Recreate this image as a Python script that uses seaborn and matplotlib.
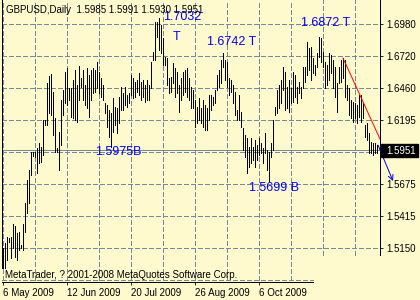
import numpy as np
import pandas as pd
import matplotlib
matplotlib.use("Agg")
import matplotlib.pyplot as plt
import seaborn as sns
from matplotlib.patches import Rectangle

# ---------------- data ----------------
symbol = "GBPUSD,Daily"
last_ohlc = ["1.5985", "1.5991", "1.5930", "1.5951"]
last_close = 1.5951

highs = [
    1.5150, 1.5191, 1.5240, 1.5232, 1.5240, 1.5346, 1.5330, 1.5273, 1.5281, 1.5174,
    1.5346, 1.5518, 1.5705, 1.5787, 1.5934, 1.5934, 1.5934, 1.5967, 1.6008, 1.5975,
    1.6196, 1.6196, 1.6498, 1.6555, 1.6571, 1.6424, 1.6212, 1.5967, 1.6098, 1.6359,
    1.6441, 1.6588, 1.6620, 1.6457, 1.6457, 1.6522, 1.6604, 1.6482, 1.6637, 1.6539,
    1.6604, 1.6482, 1.6620, 1.6563, 1.6604, 1.6620, 1.6604, 1.6669, 1.6588, 1.6539,
    1.6482, 1.6335, 1.6318, 1.6277, 1.6253, 1.6376, 1.6302, 1.6294, 1.6384, 1.6465,
    1.6416, 1.6465, 1.6400, 1.6416, 1.6563, 1.6539, 1.6506, 1.6522, 1.6580, 1.6506,
    1.6522, 1.6482, 1.6522, 1.6482, 1.6669, 1.6751, 1.6996, 1.6996, 1.7032, 1.6972,
    1.6866, 1.6710, 1.6702, 1.6539, 1.6547, 1.6661, 1.6620, 1.6588, 1.6482, 1.6539,
    1.6588, 1.6604, 1.6620, 1.6539, 1.6465, 1.6441, 1.6359, 1.6302, 1.6376, 1.6294,
    1.6359, 1.6318, 1.6294, 1.6400, 1.6400, 1.6384, 1.6441, 1.6563, 1.6604, 1.6686,
    1.6742, 1.6686, 1.6669, 1.6539, 1.6522, 1.6482, 1.6424, 1.6277, 1.6400, 1.6261,
    1.6130, 1.6073, 1.6049, 1.5975, 1.6049, 1.5975, 1.6032, 1.5991, 1.6049, 1.6008,
    1.5967, 1.6090, 1.5951, 1.5934, 1.6008, 1.6196, 1.6302, 1.6441, 1.6482, 1.6522,
    1.6629, 1.6588, 1.6465, 1.6522, 1.6457, 1.6588, 1.6563, 1.6465, 1.6506, 1.6465,
    1.6629, 1.6629, 1.6833, 1.6784, 1.6792, 1.6702, 1.6645, 1.6743, 1.6872, 1.6866,
    1.6751, 1.6669, 1.6645, 1.6743, 1.6727, 1.6686, 1.6629, 1.6498, 1.6629, 1.6686,
    1.6702, 1.6686, 1.6482, 1.6457, 1.6359, 1.6343, 1.6335, 1.6318, 1.6400, 1.6400,
    1.6335, 1.6155, 1.6171, 1.6090, 1.6016, 1.6008, 1.6008, 1.5991,
]
lows = [
    1.4985, 1.4985, 1.5052, 1.5199, 1.5068, 1.5150, 1.5076, 1.5052, 1.5134, 1.5150,
    1.5134, 1.5281, 1.5436, 1.5518, 1.5746, 1.5901, 1.5893, 1.5763, 1.5844, 1.5852,
    1.5910, 1.6155, 1.6155, 1.6253, 1.6237, 1.6073, 1.5934, 1.5934, 1.5787, 1.5991,
    1.6237, 1.6335, 1.6318, 1.6359, 1.6220, 1.6212, 1.6196, 1.6180, 1.6359, 1.6465,
    1.6359, 1.6318, 1.6294, 1.6220, 1.6359, 1.6416, 1.6424, 1.6457, 1.6416, 1.6384,
    1.6359, 1.6253, 1.6139, 1.6057, 1.5975, 1.6098, 1.6155, 1.6090, 1.6171, 1.6277,
    1.6277, 1.6318, 1.6302, 1.6335, 1.6400, 1.6376, 1.6384, 1.6424, 1.6400, 1.6359,
    1.6384, 1.6343, 1.6359, 1.6359, 1.6457, 1.6686, 1.6686, 1.6874, 1.6768, 1.6743,
    1.6645, 1.6645, 1.6482, 1.6416, 1.6424, 1.6498, 1.6384, 1.6416, 1.6261, 1.6359,
    1.6400, 1.6424, 1.6384, 1.6359, 1.6294, 1.6294, 1.6139, 1.6171, 1.6196, 1.6171,
    1.6139, 1.6114, 1.6114, 1.6196, 1.6277, 1.6318, 1.6335, 1.6441, 1.6465, 1.6498,
    1.6629, 1.6522, 1.6465, 1.6400, 1.6424, 1.6335, 1.6237, 1.6196, 1.6196, 1.6139,
    1.5951, 1.5893, 1.5763, 1.5811, 1.5844, 1.5869, 1.5811, 1.5869, 1.5910, 1.5926,
    1.5844, 1.5926, 1.5787, 1.5699, 1.5893, 1.5951, 1.6237, 1.6253, 1.6294, 1.6335,
    1.6441, 1.6277, 1.6294, 1.6261, 1.6335, 1.6343, 1.6384, 1.6335, 1.6416, 1.6376,
    1.6457, 1.6506, 1.6563, 1.6604, 1.6522, 1.6580, 1.6563, 1.6629, 1.6710, 1.6669,
    1.6629, 1.6457, 1.6482, 1.6522, 1.6580, 1.6457, 1.6384, 1.6261, 1.6498, 1.6506,
    1.6539, 1.6384, 1.6359, 1.6237, 1.6212, 1.6180, 1.6212, 1.6171, 1.6220, 1.6180,
    1.6212, 1.6057, 1.6032, 1.5926, 1.5926, 1.5910, 1.5926, 1.5930,
]

date_labels = ["6 May 2009", "12 Jun 2009", "20 Jul 2009", "26 Aug 2009", "6 Oct 2009"]
date_label_bars = [0, 32, 64, 96, 128]
price_labels = ["1.6980", "1.6720", "1.6460", "1.6195", "1.5675", "1.5415", "1.5150"]
price_label_values = [1.6980, 1.6720, 1.6460, 1.6195, 1.5675, 1.5415, 1.5150]
grid_prices = [1.6980, 1.6720, 1.6460, 1.6195, 1.5935, 1.5675, 1.5415, 1.5150]
bottom_grid_price = 1.4890
grid_bars = [0, 16, 32, 48, 64, 80, 96, 112, 128, 144, 160, 176]

ann_texts = ["1.7032", "T", "1.6742 T", "1.6872 T", "1.5975B", "1.5699 B"]
ann_bars = [80, 85, 102, 149, 46, 123]
ann_prices = [1.7037, 1.6874, 1.6833, 1.6988, 1.5934, 1.5640]

trend_bars = [170, 195]
trend_prices = [1.6702, 1.5808]
arrow_bars = [187.5, 195]
arrow_prices = [1.5991, 1.5697]

copyright_text = "MetaTrader, ? 2001-2008 MetaQuotes Software Corp."

# ---------------- style ----------------
BG = "#FFFACD"
GRID = "#778899"
sns.set_theme(style="white")
plt.rcParams["font.family"] = ["Liberation Sans", "DejaVu Sans"]
plt.rcParams["font.size"] = 7

W, H = 420, 300
fig = plt.figure(figsize=(W / 100, H / 100), dpi=100, facecolor=BG)
ax = fig.add_axes([2 / W, 18 / H, 378 / W, 282 / H], facecolor=BG)

n = len(highs)
idx = np.arange(n)
df = pd.DataFrame({
    "bar": np.repeat(idx, 2),
    "price": np.column_stack([highs, lows]).ravel(),
})

ylo, yhi = 1.4872, 1.7176
ax.set_xlim(-0.5, 188.5)
ax.set_ylim(ylo, yhi)

dash = (0, (5, 3))
LW1 = 0.6  # ~1 device pixel
# grid
ax.hlines(grid_prices, -0.5, 188.5, colors=GRID, linewidth=LW1,
          linestyles=[dash], antialiased=False, zorder=1)
ax.hlines([bottom_grid_price], -0.5, 155, colors=GRID, linewidth=LW1,
          linestyles=[dash], antialiased=False, zorder=1)
for b in grid_bars:
    ymin = bottom_grid_price if b <= 144 else 1.5093
    ax.vlines(b, ymin, yhi, colors=GRID, linewidth=LW1,
              linestyles=[dash], antialiased=False, zorder=1)

# current price line
ax.axhline(last_close, color=GRID, linewidth=LW1, antialiased=False, zorder=1.5)

# bars
sns.lineplot(data=df, x="bar", y="price", units="bar", estimator=None,
             sort=False, color="black", linewidth=LW1, ax=ax, legend=False,
             antialiased=False, zorder=3)

# red trend line
ax.plot(trend_bars, trend_prices, color="red", linewidth=0.7, zorder=4)

# blue arrow
ann = ax.annotate("", xy=(arrow_bars[1], arrow_prices[1]),
                  xytext=(arrow_bars[0], arrow_prices[0]),
                  arrowprops=dict(arrowstyle="->", color="blue", lw=0.7,
                                  mutation_scale=9, shrinkA=0, shrinkB=0),
                  annotation_clip=False, zorder=6)
ann.arrow_patch.set_clip_on(False)

# blue annotations
for t, b, p in zip(ann_texts, ann_bars, ann_prices):
    ax.text(b, p, t, color="blue", fontsize=9, ha="left", va="center", zorder=5)

# spines
ax.spines["top"].set_visible(False)
for s in ["left", "right", "bottom"]:
    ax.spines[s].set_color("black")
    ax.spines[s].set_linewidth(LW1)
    ax.spines[s].set_antialiased(False)
ax.spines["left"].set_bounds(1.4987, yhi)
ax.spines["right"].set_bounds(1.5093, yhi)
ax.spines["bottom"].set_bounds(-0.5, 155)

# ticks
ax.yaxis.tick_right()
ax.set_yticks(price_label_values)
ax.set_yticklabels(price_labels)
ax.tick_params(axis="y", which="both", right=True, left=False, length=2.5,
               width=LW1, color="black", pad=2.0, labelsize=7, labelcolor="black")
ax.set_xticks(date_label_bars)
ax.set_xticklabels(date_labels, ha="left")
ax.tick_params(axis="x", bottom=True, length=2.5, width=LW1, color="black",
               pad=1.5, labelsize=7, labelcolor="black")
ax.set_xlabel("")
ax.set_ylabel("")

# current price box on the price scale
fig.patches.append(Rectangle((381 / W, 1 - 157 / H), 37 / W, 13 / H,
                             transform=fig.transFigure, color="black", zorder=10))
fig.text(386 / W, 1 - 150.5 / H, "1.5951", color="white", fontsize=7,
         ha="left", va="center", zorder=11)

# header and copyright
fig.text(6 / W, 1 - 10 / H, symbol + "  " + " ".join(last_ohlc), color="black",
         fontsize=7, ha="left", va="center", zorder=11)
fig.text(5 / W, 1 - 275 / H, copyright_text, color="black", fontsize=7,
         ha="left", va="center", zorder=11)

fig.savefig("out.png", dpi=100, facecolor=BG)
